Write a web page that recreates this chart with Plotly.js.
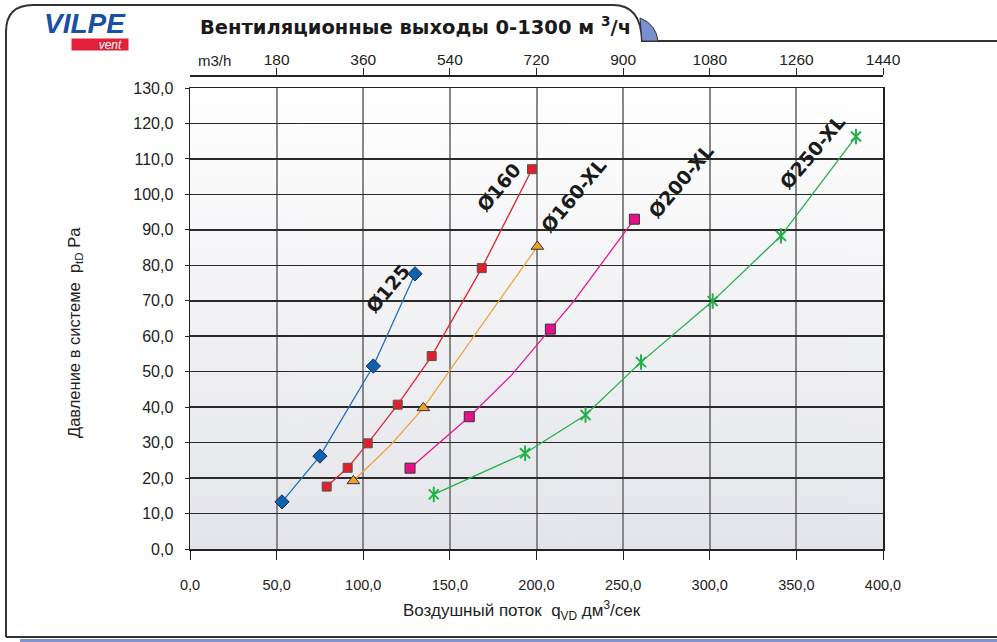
<!DOCTYPE html>
<html>
<head>
<meta charset="utf-8">
<script src="https://cdn.plot.ly/plotly-3.0.1.min.js"></script>
<style>html,body{margin:0;padding:0;background:#fff;}#chart{width:997px;height:642px;}</style>
</head>
<body>
<div id="chart"></div>
<script>
// ---- data (flow dm3/s, pressure Pa) ----
const s125X = [53.1, 75.0, 105.8, 129.9];
const s125Y = [13.3, 26.2, 51.6, 77.6];
const s160X = [78.9, 91.0, 102.6, 119.9, 139.5, 168.4, 197.4];
const s160Y = [17.6, 22.9, 29.8, 40.7, 54.4, 79.2, 107.1];
const s160xlLineX = [94.3, 116.4, 134.7, 200.5];
const s160xlLineY = [19.2, 29.6, 39.8, 85.3];
const s160xlX = [94.3, 134.7, 200.5];
const s160xlY = [19.2, 39.8, 85.3];
const s200xlLineX = [127.0, 161.2, 185.7, 208.0, 221.2, 256.5];
const s200xlLineY = [22.8, 37.3, 49.1, 62.0, 69.7, 93.0];
const s200xlX = [127.0, 161.2, 208.0, 256.5];
const s200xlY = [22.8, 37.3, 62.0, 93.0];
const s250xlX = [140.7, 193.4, 228.3, 260.3, 301.7, 341.1, 384.4];
const s250xlY = [15.4, 27.0, 37.8, 52.7, 69.9, 88.3, 116.3];
const seriesLabels = ['Ø125', 'Ø160', 'Ø160-XL', 'Ø200-XL', 'Ø250-XL'];
const labelX = [114.5, 178.4, 221.6, 283.2, 359.2];
const labelY = [73.5, 102.0, 99.8, 103.9, 111.9];
const topTicks = [180, 360, 540, 720, 900, 1080, 1260, 1440];

// ---- geometry helpers (pixel -> paper) ----
const L = 190, R = 883, T = 75, B = 549, W = 997, H = 642;
const PW = R - L, PH = B - T;
const px = x => (x - L) / PW;
const py = y => (B - y) / PH;
const yTop = py(88);

// gradient background image
const cv = document.createElement('canvas');
cv.width = 10; cv.height = 200;
const ctx = cv.getContext('2d');
const g = ctx.createLinearGradient(0, 0, 0, 200);
g.addColorStop(0, '#ffffff');
g.addColorStop(1, '#e4e5ea');
ctx.fillStyle = g; ctx.fillRect(0, 0, 10, 200);
const bgURL = cv.toDataURL();

const FONT = 'Liberation Sans, Arial, sans-serif';

function lineTrace(x, y, color) {
  return {x, y, mode: 'lines', type: 'scatter', line: {color, width: 1.3}, hoverinfo: 'skip', showlegend: false};
}
function markTrace(x, y, symbol, size, color, edge) {
  return {x, y, mode: 'markers', type: 'scatter', showlegend: false,
    marker: {symbol, size, color, line: {color: edge, width: 1}}};
}

const traces = [
  lineTrace(s125X, s125Y, '#1f6fc0'),
  markTrace(s125X, s125Y, 'diamond', 11, '#1060b0', '#1a2f55'),
  lineTrace(s160X, s160Y, '#e3262e'),
  markTrace(s160X, s160Y, 'square', 9, '#e0202a', '#555'),
  lineTrace(s160xlLineX, s160xlLineY, '#f4a040'),
  markTrace(s160xlX, s160xlY, 'triangle-up', 11, '#f0a030', '#333'),
  lineTrace(s200xlLineX, s200xlLineY, '#ec1590'),
  markTrace(s200xlX, s200xlY, 'square', 10, '#e8108a', '#333'),
  lineTrace(s250xlX, s250xlY, '#22b04a'),
  {x: s250xlX, y: s250xlY, mode: 'markers', type: 'scatter', showlegend: false,
   marker: {symbol: 'x-thin-open', size: 10, color: '#22b04a', line: {color: '#22b04a', width: 2}}},
  {x: s250xlX, y: s250xlY, mode: 'markers', type: 'scatter', showlegend: false,
   marker: {symbol: 'line-ns-open', size: 11, color: '#22b04a', line: {color: '#22b04a', width: 2}}},
  {x: [0, 1440], y: [0, 0], xaxis: 'x2', yaxis: 'y', mode: 'markers', marker: {opacity: 0}, showlegend: false, hoverinfo: 'skip'}
];

function ann(x, y, text, font, extra) {
  return Object.assign({x: px(x), y: py(y), xref: 'paper', yref: 'paper', text, showarrow: false,
    xanchor: 'center', yanchor: 'middle', font}, extra || {});
}

const annotations = seriesLabels.map((t, i) => ({
  x: labelX[i], y: labelY[i], xref: 'x', yref: 'y', text: '<b>' + t + '</b>',
  xanchor: 'center', yanchor: 'middle',
  showarrow: false, textangle: -50, font: {family: 'DejaVu Sans, sans-serif', size: 19, color: '#1a1a1a'}
}));
annotations.push(
  ann(214, 61, 'm3/h', {family: FONT, size: 15, color: '#222'}),
  ann(75, 333, 'Давление в системе  p<sub>tD</sub> Pa', {family: FONT, size: 16.5, color: '#222'}, {textangle: -90}),
  ann(522, 610, 'Воздушный поток  q<sub>VD</sub> дм<sup>3</sup>/сек', {family: FONT, size: 17, color: '#222'}),
  ann(85, 23, '<b><i>VILPE</i></b>', {family: FONT, size: 28, color: '#1a4fa6'}),
  ann(100, 44, '<i>vent</i>  ', {family: FONT, size: 12, color: '#ffffff'},
    {bgcolor: '#e2203a', borderpad: 0, width: 56, height: 11, align: 'right'})
);

const shapes = [
  {type: 'path', xref: 'paper', yref: 'paper', layer: 'above',
   path: `M ${px(6)},${py(637)} L ${px(6)},${py(32)} Q ${px(6)},${py(5)} ${px(33)},${py(5)} L ${px(613)},${py(5)} Q ${px(641)},${py(5)} ${px(642)},${py(41)} L ${px(997)},${py(41)}`,
   line: {color: '#333', width: 2}},
  {type: 'path', xref: 'paper', yref: 'paper', layer: 'above',
   path: `M ${px(640)},${py(18)} Q ${px(656)},${py(24)} ${px(658)},${py(41)} L ${px(642)},${py(41)} Z`,
   fillcolor: '#7d8fd0', line: {color: '#333', width: 1}},
  {type: 'line', xref: 'paper', yref: 'paper', x0: px(6), x1: px(997), y0: py(637), y1: py(637),
   line: {color: '#333', width: 2}},
  {type: 'rect', xref: 'paper', yref: 'paper', x0: px(20), x1: px(997), y0: py(639), y1: py(643),
   fillcolor: '#8294cc', line: {width: 0}}
];

const layout = {
  width: W, height: H,
  margin: {l: L, r: W - R, t: T, b: H - B, pad: 0},
  paper_bgcolor: '#ffffff', plot_bgcolor: 'rgba(0,0,0,0)',
  separators: ', ',
  font: {family: FONT, color: '#222'},
  title: {text: '<b>Вентиляционные выходы 0-1300 м <sup>3</sup>/ч</b>', x: 200 / W, xanchor: 'left',
    xref: 'container', y: 1 - 27 / H, yanchor: 'middle', yref: 'container',
    font: {family: 'DejaVu Sans, sans-serif', size: 19.5, color: '#1a1a1a'}},
  xaxis: {range: [0, 400], dtick: 50, tick0: 0, tickformat: '.1f', showgrid: true, gridcolor: '#888',
    gridwidth: 2, zeroline: false, showline: true, linecolor: '#222', linewidth: 1.5, mirror: true,
    ticks: 'outside', ticklen: 9, tickcolor: '#222', tickwidth: 1, ticklabelstandoff: 13,
    tickfont: {family: FONT, size: 14.5, color: '#222'}, fixedrange: true},
  xaxis2: {overlaying: 'x', side: 'top', anchor: 'free', position: 1, range: [0, 1440],
    tickvals: topTicks, ticktext: topTicks.map(String), showgrid: false, zeroline: false,
    showline: true, linecolor: '#222', linewidth: 1.5, ticks: 'outside', ticklen: 7, tickcolor: '#222',
    ticklabelstandoff: -3,
    tickfont: {family: FONT, size: 15.5, color: '#222'}, fixedrange: true},
  yaxis: {range: [0, 130], dtick: 10, tickformat: '.1f', domain: [0, yTop], showgrid: true,
    gridcolor: '#2a2a2a', gridwidth: 1.5, zeroline: false, showline: true, linecolor: '#222',
    linewidth: 1.5, mirror: true, ticks: 'outside', ticklen: 4, tickcolor: '#222', ticklabelstandoff: 8,
    tickfont: {family: FONT, size: 16, color: '#222'}, fixedrange: true},
  images: [{source: bgURL, xref: 'paper', yref: 'paper', x: 0, y: yTop, sizex: 1, sizey: yTop,
    sizing: 'stretch', xanchor: 'left', yanchor: 'top', layer: 'below'}],
  annotations, shapes
};

Plotly.newPlot('chart', traces, layout, {displayModeBar: false, staticPlot: true});
</script>
</body>
</html>
